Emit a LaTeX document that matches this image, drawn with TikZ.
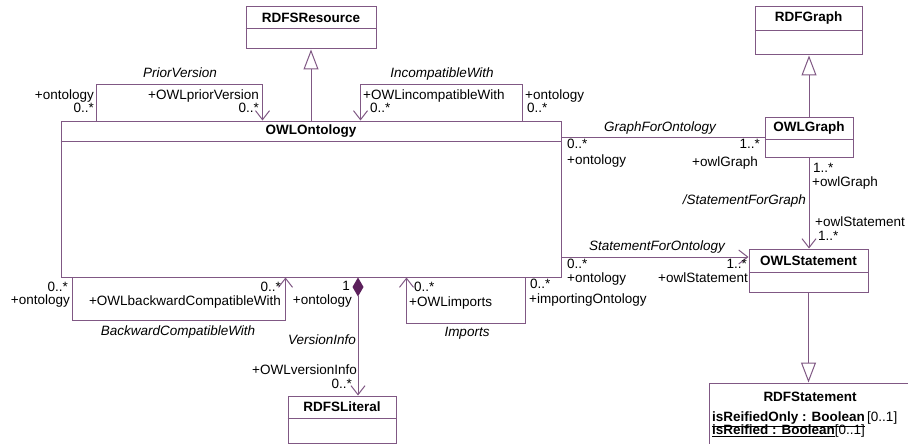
\documentclass[tikz,border=0pt]{standalone}
\usepackage{fontspec}
\setmainfont{Liberation Sans}
\usetikzlibrary{arrows.meta,calc}
\definecolor{lc}{RGB}{128,88,132}
\definecolor{dc}{RGB}{92,32,92}
\tikzset{
  cls/.style={draw=lc, line width=1pt, fill=white, inner sep=0pt, rectangle},
  ttl/.style={font=\fontsize{13.5}{14}\selectfont\bfseries, inner sep=0pt},
  lbl/.style={font=\fontsize{13.5}{14}\selectfont, inner sep=0pt, text height=9.5pt, text depth=2.5pt},
  rn/.style={lbl, font=\fontsize{13.5}{14}\selectfont\itshape},
  conn/.style={draw=lc, line width=1pt},
  nav/.style={conn, -{Straight Barb[length=9pt,width=14pt]}},
  gen/.style={conn, -{Triangle[length=20pt,width=15pt,fill=white]}},
  comp/.style={conn, {Diamond[length=19pt,width=11pt,fill=dc,color=dc]}-{Straight Barb[length=9pt,width=14pt]}},
}
\begin{document}
\begin{tikzpicture}[x=1pt,y=-1pt]
\fill[white] (0,0) rectangle (908,444);
\useasboundingbox (0,0) rectangle (908,444);

% ---------- classes
\node[cls, minimum width=500pt, minimum height=156pt] (onto) at (311,199) {};
\draw[conn] ([yshift=-21pt]onto.north west) -- ([yshift=-21pt]onto.north east);
\node[ttl] (ontoT) at ([yshift=-11pt]onto.north) {OWLOntology};

\node[cls, minimum width=130pt, minimum height=42pt] (res) at (311,28) {};
\draw[conn] ([yshift=-22pt]res.north west) -- ([yshift=-22pt]res.north east);
\node[ttl] (resT) at ([yshift=-11pt]res.north) {RDFSResource};

\node[cls, minimum width=107pt, minimum height=48pt] (rgraph) at (808.5,31) {};
\draw[conn] ([yshift=-24pt]rgraph.north west) -- ([yshift=-24pt]rgraph.north east);
\node[ttl] (rgraphT) at ([yshift=-12pt]rgraph.north) {RDFGraph};

\node[cls, minimum width=88pt, minimum height=40pt] (ograph) at (809,137) {};
\draw[conn] ([yshift=-23pt]ograph.north west) -- ([yshift=-23pt]ograph.north east);
\node[ttl] (ographT) at ([yshift=-11.5pt]ograph.north) {OWLGraph};

\node[cls, minimum width=119pt, minimum height=43pt] (ostmt) at (808.5,270.5) {};
\draw[conn] ([yshift=-24pt]ostmt.north west) -- ([yshift=-24pt]ostmt.north east);
\node[ttl] (ostmtT) at ([yshift=-12pt]ostmt.north) {OWLStatement};

\node[cls, minimum width=108pt, minimum height=47pt] (lit) at (342,419.5) {};
\draw[conn] ([yshift=-23pt]lit.north west) -- ([yshift=-23pt]lit.north east);
\node[ttl] (litT) at ([yshift=-11.5pt]lit.north) {RDFSLiteral};

\node[cls, minimum width=202pt, minimum height=70pt] (rstmt) at (810,418) {};
\node[ttl] (rstmtT) at ([yshift=-14pt]rstmt.north) {RDFStatement};
\node[lbl, anchor=west] (att1) at (712,418) {\underline{\textbf{isReifiedOnly : Boolean}}\,[0..1]};
\node[lbl, anchor=west] (att2) at (712,431) {\underline{\textbf{isReified : Boolean}}[0..1]};

% ---------- generalizations
\draw[gen] (onto.north) -- (res.south);
\draw[gen] (ograph.north) -- (ograph.north |- rgraph.south);
\draw[gen] (ostmt.south) -- (ostmt.south |- rstmt.north);

% ---------- associations
\draw[conn] (ograph.west -| onto.east) -- (ograph.west);
\coordinate (sfo) at (0,257);
\draw[nav] (sfo -| onto.east) -- (sfo -| ostmt.west);
\draw[nav] (ograph.south) -- (ograph.south |- ostmt.north);
\coordinate (vi) at (358,0);
\draw[comp] (vi |- onto.south) -- (vi |- lit.north);

% self associations
\draw[nav] ([xshift=36pt]onto.north west) -- ++(0,-36) -| ([xshift=202pt]onto.north west);
\draw[nav] ([xshift=462pt]onto.north west) -- ++(0,-36) -| ([xshift=300pt]onto.north west);
\draw[nav] ([xshift=12pt]onto.south west) -- ++(0,43) -| ([xshift=225pt]onto.south west);
\draw[nav] ([xshift=465pt]onto.south west) -- ++(0,46) -| ([xshift=346pt]onto.south west);

% ---------- labels: PriorVersion
\node[rn] (pvN) at (180,74) {PriorVersion};
\node[lbl, anchor=east] (pv1) at (94,96) {+ontology};
\node[lbl, anchor=east] (pv2) at (94,109) {0..*};
\node[lbl, anchor=east] (pv3) at (259,96) {+OWLpriorVersion};
\node[lbl, anchor=east] (pv4) at (259,109) {0..*};
% IncompatibleWith
\node[rn] (icN) at (442,74) {IncompatibleWith};
\node[lbl, anchor=west] (ic1) at (363,96) {+OWLincompatibleWith};
\node[lbl, anchor=west] (ic2) at (370,109) {0..*};
\node[lbl, anchor=west] (ic3) at (525,96) {+ontology};
\node[lbl, anchor=west] (ic4) at (527,109) {0..*};
% BackwardCompatibleWith
\node[lbl, anchor=east] (bc1) at (68,288) {0..*};
\node[lbl, anchor=east] (bc2) at (70,301) {+ontology};
\node[lbl, anchor=east] (bc3) at (281,288) {0..*};
\node[lbl, anchor=east] (bc4) at (281,302) {+OWLbackwardCompatibleWith};
\node[rn] (bcN) at (178,332) {BackwardCompatibleWith};
% VersionInfo
\node[lbl, anchor=east] (vi1) at (350,287) {1};
\node[lbl, anchor=east] (vi2) at (352,301) {+ontology};
\node[rn, anchor=east] (viN) at (356,341) {VersionInfo};
\node[lbl, anchor=east] (vi3) at (357,371) {+OWLversionInfo};
\node[lbl, anchor=east] (vi4) at (352,385) {0..*};
% Imports
\node[lbl, anchor=west] (im1) at (414,288) {0..*};
\node[lbl, anchor=west] (im2) at (409,303) {+OWLimports};
\node[rn] (imN) at (467,333) {Imports};
\node[lbl, anchor=west] (im3) at (530,285) {0..*};
\node[lbl, anchor=west] (im4) at (529,300) {+importingOntology};
% GraphForOntology
\node[rn] (gfN) at (660,128) {GraphForOntology};
\node[lbl, anchor=west] (gf1) at (567,145) {0..*};
\node[lbl, anchor=west] (gf2) at (567,161) {+ontology};
\node[lbl, anchor=east] (gf3) at (760,145) {1..*};
\node[lbl, anchor=east] (gf4) at (758,163) {+owlGraph};
% StatementForGraph
\node[lbl, anchor=west] (sg1) at (813,169) {1..*};
\node[lbl, anchor=west] (sg2) at (812,183) {+owlGraph};
\node[rn, anchor=east] (sgN) at (806,201) {/StatementForGraph};
\node[lbl, anchor=west] (sg3) at (815,223) {+owlStatement};
\node[lbl, anchor=west] (sg4) at (818,237) {1..*};
% StatementForOntology
\node[rn] (soN) at (657,247) {StatementForOntology};
\node[lbl, anchor=west] (so1) at (567,265) {0..*};
\node[lbl, anchor=west] (so2) at (567,279) {+ontology};
\node[lbl, anchor=east] (so3) at (747,265) {1..*};
\node[lbl, anchor=east] (so4) at (748,279) {+owlStatement};
\end{tikzpicture}
\end{document}
